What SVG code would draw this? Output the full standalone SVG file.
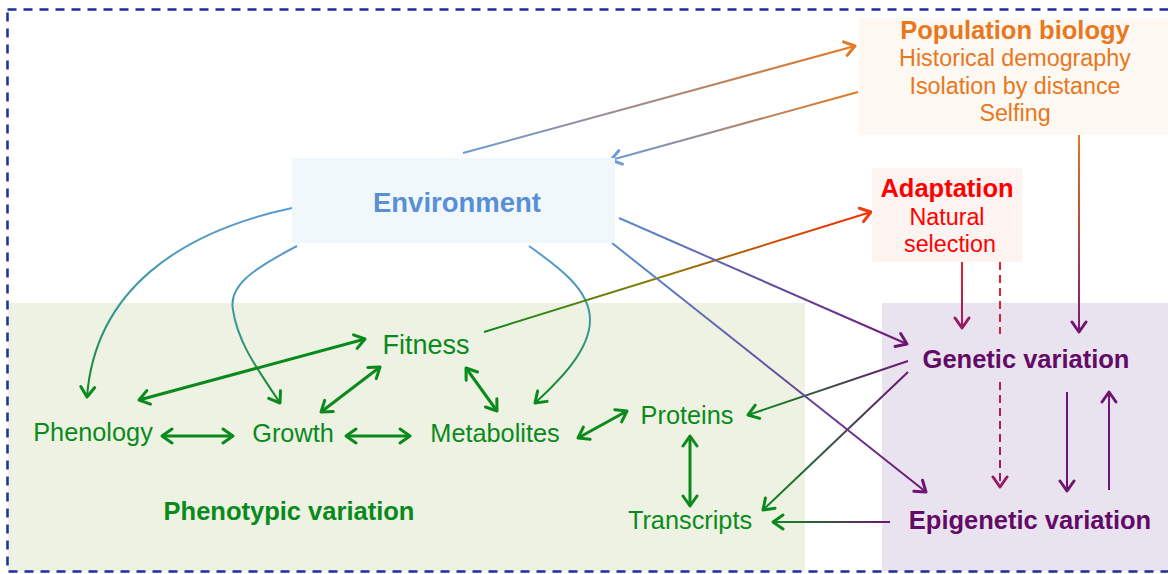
<svg xmlns="http://www.w3.org/2000/svg" width="1168" height="574" viewBox="0 0 1168 574">
  <style>
    .t { font-family: "Liberation Sans", Arial, sans-serif; text-anchor: middle; }
    .b { font-weight: bold; }
    .green { fill: #0a8a1c; }
    .purple { fill: #620a66; }
    .orange { fill: #e8771d; }
    .red { fill: #ff0000; }
    .blue { fill: #5a8fd6; }
    .ln { fill: none; stroke-width: 2; }
    .g3 { fill: none; stroke: #0a8a1c; stroke-width: 3; }
    .head { fill: none; stroke-width: 3; stroke-linecap: round; stroke-linejoin: round; }
  </style>
  <defs>
    <marker id="aG" viewBox="0 0 16 18" refX="12.5" refY="9" markerWidth="16" markerHeight="18" markerUnits="userSpaceOnUse" orient="auto-start-reverse">
      <path class="head" d="M2.5,2 L12.5,9 L2.5,16" stroke="#0a8a1c" stroke-width="3.4"/>
    </marker>
    <marker id="aP" viewBox="0 0 16 18" refX="12.5" refY="9" markerWidth="16" markerHeight="18" markerUnits="userSpaceOnUse" orient="auto-start-reverse">
      <path class="head" d="M2.5,2 L12.5,9 L2.5,16" stroke="#6e1574"/>
    </marker>
    <marker id="aC" viewBox="0 0 16 18" refX="12.5" refY="9" markerWidth="16" markerHeight="18" markerUnits="userSpaceOnUse" orient="auto-start-reverse">
      <path class="head" d="M2.5,2 L12.5,9 L2.5,16" stroke="#9a1a62"/>
    </marker>
    <marker id="aB" viewBox="0 0 16 18" refX="12.5" refY="9" markerWidth="16" markerHeight="18" markerUnits="userSpaceOnUse" orient="auto-start-reverse">
      <path class="head" d="M2.5,2 L12.5,9 L2.5,16" stroke="#6a9bd8"/>
    </marker>
    <marker id="aO" viewBox="0 0 16 18" refX="12.5" refY="9" markerWidth="16" markerHeight="18" markerUnits="userSpaceOnUse" orient="auto-start-reverse">
      <path class="head" d="M2.5,2 L12.5,9 L2.5,16" stroke="#e8771d"/>
    </marker>
    <marker id="aR" viewBox="0 0 16 18" refX="12.5" refY="9" markerWidth="16" markerHeight="18" markerUnits="userSpaceOnUse" orient="auto-start-reverse">
      <path class="head" d="M2.5,2 L12.5,9 L2.5,16" stroke="#f23a0e"/>
    </marker>

    <linearGradient id="gEnvPop" gradientUnits="userSpaceOnUse" x1="463" y1="153" x2="855" y2="46">
      <stop offset="0" stop-color="#6a9bd8"/><stop offset="1" stop-color="#e8771d"/>
    </linearGradient>
    <linearGradient id="gPopEnv" gradientUnits="userSpaceOnUse" x1="858" y1="92" x2="611" y2="160">
      <stop offset="0" stop-color="#e8771d"/><stop offset="1" stop-color="#6a9bd8"/>
    </linearGradient>
    <linearGradient id="gDown" x1="0" y1="0" x2="0" y2="1">
      <stop offset="0" stop-color="#5b9bd5"/><stop offset="0.5" stop-color="#3a9a9a"/><stop offset="1" stop-color="#0a8a1c"/>
    </linearGradient>
    <linearGradient id="gFitAd" gradientUnits="userSpaceOnUse" x1="484" y1="332" x2="871" y2="212">
      <stop offset="0" stop-color="#0a8a1c"/><stop offset="0.45" stop-color="#8a7a00"/><stop offset="1" stop-color="#ff2a00"/>
    </linearGradient>
    <linearGradient id="gGenProt" gradientUnits="userSpaceOnUse" x1="908" y1="361" x2="748" y2="415">
      <stop offset="0" stop-color="#6e1574"/><stop offset="1" stop-color="#0a8a1c"/>
    </linearGradient>
    <linearGradient id="gGenTr" gradientUnits="userSpaceOnUse" x1="908" y1="372" x2="763" y2="510">
      <stop offset="0" stop-color="#6e1574"/><stop offset="1" stop-color="#0a8a1c"/>
    </linearGradient>
    <linearGradient id="gEpiTr" gradientUnits="userSpaceOnUse" x1="890" y1="522" x2="773" y2="522">
      <stop offset="0" stop-color="#6e1574"/><stop offset="1" stop-color="#0a8a1c"/>
    </linearGradient>
    <linearGradient id="gEnvGen" gradientUnits="userSpaceOnUse" x1="619" y1="218" x2="907" y2="344">
      <stop offset="0" stop-color="#5b8fd0"/><stop offset="1" stop-color="#6e1574"/>
    </linearGradient>
    <linearGradient id="gEnvEpi" gradientUnits="userSpaceOnUse" x1="612" y1="243" x2="926" y2="492">
      <stop offset="0" stop-color="#5b8fd0"/><stop offset="1" stop-color="#6e1574"/>
    </linearGradient>
    <linearGradient id="gAdGen" gradientUnits="userSpaceOnUse" x1="0" y1="262" x2="0" y2="328">
      <stop offset="0" stop-color="#e8202a"/><stop offset="1" stop-color="#9a1a62"/>
    </linearGradient>
    <linearGradient id="gAdEpi" gradientUnits="userSpaceOnUse" x1="0" y1="262" x2="0" y2="487">
      <stop offset="0" stop-color="#f0202a"/><stop offset="1" stop-color="#9a1a62"/>
    </linearGradient>
    <linearGradient id="gPopGen" gradientUnits="userSpaceOnUse" x1="0" y1="135" x2="0" y2="332">
      <stop offset="0" stop-color="#e8771d"/><stop offset="1" stop-color="#7a1a70"/>
    </linearGradient>
  </defs>

  <!-- background panels -->
  <rect x="8" y="303" width="797" height="268" fill="#eef2e3"/>
  <rect x="882" y="303" width="290" height="268" fill="#e9e3ef"/>

  <!-- outer dashed frame -->
  <rect x="7.5" y="9.5" width="1172" height="562" fill="none" stroke="#1b2ea0" stroke-width="2.5" stroke-dasharray="9 7"/>

  <!-- connectors -->
  <g id="connectors">
    <line class="ln" x1="463" y1="153" x2="855" y2="46" stroke="url(#gEnvPop)" marker-end="url(#aO)"/>
    <line class="ln" x1="858" y1="92" x2="611" y2="160" stroke="url(#gPopEnv)" marker-end="url(#aB)"/>

    <path class="ln" d="M292,208 C180,232 95,290 87,397" stroke="url(#gDown)" marker-end="url(#aG)"/>
    <path class="ln" d="M297,246 C255,268 228,285 233,310 C238,345 262,375 280,403" stroke="url(#gDown)" marker-end="url(#aG)"/>
    <path class="ln" d="M529,246 C560,268 590,290 590,320 C590,350 560,380 535,403" stroke="url(#gDown)" marker-end="url(#aG)"/>

    <line class="ln" x1="484" y1="332" x2="871" y2="212" stroke="url(#gFitAd)" marker-end="url(#aR)"/>

    <line class="g3" x1="139" y1="400" x2="365" y2="339" marker-start="url(#aG)" marker-end="url(#aG)"/>
    <line class="g3" x1="321" y1="412" x2="380" y2="367" marker-start="url(#aG)" marker-end="url(#aG)"/>
    <line class="g3" x1="466" y1="368" x2="497" y2="411" marker-start="url(#aG)" marker-end="url(#aG)"/>
    <line class="g3" x1="162" y1="436" x2="233" y2="436" marker-start="url(#aG)" marker-end="url(#aG)"/>
    <line class="g3" x1="346" y1="436" x2="410" y2="436" marker-start="url(#aG)" marker-end="url(#aG)"/>
    <line class="g3" x1="578" y1="438" x2="627" y2="411" marker-start="url(#aG)" marker-end="url(#aG)"/>
    <line class="g3" x1="690" y1="436" x2="690" y2="506" marker-start="url(#aG)" marker-end="url(#aG)"/>

    <line class="ln" x1="908" y1="361" x2="748" y2="415" stroke="url(#gGenProt)" marker-end="url(#aG)"/>
    <line class="ln" x1="908" y1="372" x2="763" y2="510" stroke="url(#gGenTr)" marker-end="url(#aG)"/>
    <line class="ln" x1="890" y1="522" x2="773" y2="522" stroke="url(#gEpiTr)" marker-end="url(#aG)"/>

    <line class="ln" x1="619" y1="218" x2="907" y2="344" stroke="url(#gEnvGen)" marker-end="url(#aP)"/>
    <line class="ln" x1="612" y1="243" x2="926" y2="492" stroke="url(#gEnvEpi)" marker-end="url(#aP)"/>

    <line class="ln" x1="962" y1="262" x2="962" y2="328" stroke="url(#gAdGen)" marker-end="url(#aC)"/>
    <path class="ln" d="M1000,262 L1000,334 M1000,382 L1000,487" stroke="url(#gAdEpi)" stroke-dasharray="8 5" marker-end="url(#aC)"/>
    <line class="ln" x1="1079" y1="135" x2="1079" y2="332" stroke="url(#gPopGen)" marker-end="url(#aP)"/>

    <line class="ln" x1="1067" y1="392" x2="1067" y2="491" stroke="#6e1574" marker-end="url(#aP)"/>
    <line class="ln" x1="1109" y1="490" x2="1109" y2="392" stroke="#6e1574" marker-end="url(#aP)"/>
  </g>

  <!-- nodes -->
  <g id="environment">
    <rect x="292" y="158" width="323" height="85" fill="#f0f8fc"/>
    <text class="t b blue" x="457" y="212" font-size="27.5">Environment</text>
  </g>

  <g id="population-biology">
    <rect x="859" y="18" width="312" height="117" fill="#fdf8f2"/>
    <text class="t b orange" x="1015" y="39" font-size="25.5">Population biology</text>
    <text class="t orange" x="1015" y="66" font-size="23.3">Historical demography</text>
    <text class="t orange" x="1015" y="94" font-size="23.3">Isolation by distance</text>
    <text class="t orange" x="1015" y="121" font-size="23.3">Selfing</text>
  </g>

  <g id="adaptation">
    <rect x="872" y="168" width="150" height="94" fill="#fdf3f1"/>
    <text class="t b red" x="947" y="197" font-size="25.5">Adaptation</text>
    <text class="t red" x="947" y="225" font-size="23.3">Natural</text>
    <text class="t red" x="950" y="252" font-size="23.3">selection</text>
  </g>

  <g id="fitness"><text class="t green" x="426" y="354" font-size="27">Fitness</text></g>
  <g id="phenology"><text class="t green" x="93" y="441" font-size="25.3">Phenology</text></g>
  <g id="growth"><text class="t green" x="293" y="442" font-size="25.3">Growth</text></g>
  <g id="metabolites"><text class="t green" x="495" y="442" font-size="25.3">Metabolites</text></g>
  <g id="proteins"><text class="t green" x="687" y="424" font-size="25.3">Proteins</text></g>
  <g id="transcripts"><text class="t green" x="690" y="529" font-size="25.3">Transcripts</text></g>
  <g id="phenotypic-variation"><text class="t b green" x="289" y="520" font-size="25.5">Phenotypic variation</text></g>
  <g id="genetic-variation"><text class="t b purple" x="1026" y="368" font-size="25.5">Genetic variation</text></g>
  <g id="epigenetic-variation"><text class="t b purple" x="1030" y="529" font-size="25.5">Epigenetic variation</text></g>
</svg>
